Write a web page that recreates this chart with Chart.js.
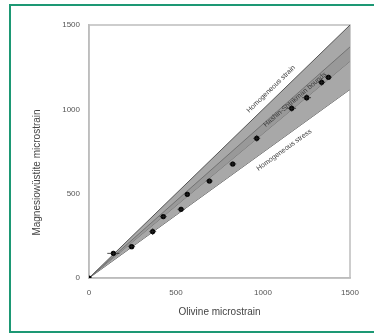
<!DOCTYPE html>
<html><head><meta charset="utf-8">
<script src="https://cdn.jsdelivr.net/npm/chart.js@4.4.0/dist/chart.umd.min.js"></script>
<style>
html,body{margin:0;padding:0;background:#fff;}
#wrap{position:absolute;left:0;top:0;width:374px;height:334px;}
#frame{position:absolute;left:9px;top:4px;width:368px;height:329px;border:2px solid #1d9874;box-sizing:border-box;pointer-events:none;}
canvas{position:absolute;left:0;top:0;}
</style></head>
<body>
<div id="wrap"><canvas id="c" width="374" height="334"></canvas><div id="frame"></div></div>
<script>
// Data
const olivine = [0,140,245,366,427,529,565,692,826,964,1165,1251,1337,1376];
const magnesiowustite = [0,146,186,275,364,407,496,575,676,828,1006,1069,1160,1190];
const olivineErr = [0,35,20,20,20,20,15,20,20,20,25,25,20,20];
const mgwErr = [0,15,15,20,15,15,15,15,15,20,20,20,20,15];
const axisTicks = [0,500,1000,1500];
const boundX = [0,1500];
const strainBound = [0,1500];      // homogeneous strain (y = x)
const stressBound = [0,1118];      // homogeneous stress
const hsUpper = [0,1370];          // Hashin-Shtrikman upper
const hsLower = [0,1285];          // Hashin-Shtrikman lower
const labelTexts = ['Homogeneous strain','Hashin-Shtrikman bounds','Homogeneous stress'];
const labelX = [1046,1184,1121];
const labelY = [1120,1058,759];
const labelSlope = [1.0,0.88,0.745];

const pts = (xs,ys)=>xs.map((x,i)=>({x:x,y:ys[i]}));

const frameAndLabels = {
  id:'extras',
  beforeDatasetsDraw(chart){
    const a = chart.chartArea, ctx = chart.ctx;
    ctx.save();
    ctx.strokeStyle = '#bdbdbd'; ctx.lineWidth = 1.5;
    ctx.strokeRect(a.left, a.top, a.right-a.left, a.bottom-a.top);
    ctx.restore();
  },
  afterDatasetsDraw(chart){
    const ctx = chart.ctx, xs = chart.scales.x, ys = chart.scales.y;
    ctx.save();
    // error bars
    ctx.strokeStyle = '#222'; ctx.lineWidth = 0.8;
    olivine.forEach((x,i)=>{
      const px = xs.getPixelForValue(x), py = ys.getPixelForValue(magnesiowustite[i]);
      if (olivineErr[i]) {
        const l = xs.getPixelForValue(x-olivineErr[i]), r = xs.getPixelForValue(x+olivineErr[i]);
        ctx.beginPath(); ctx.moveTo(l,py); ctx.lineTo(r,py); ctx.stroke();
      }
      if (mgwErr[i]) {
        const t = ys.getPixelForValue(magnesiowustite[i]+mgwErr[i]), b = ys.getPixelForValue(magnesiowustite[i]-mgwErr[i]);
        ctx.beginPath(); ctx.moveTo(px,t); ctx.lineTo(px,b); ctx.stroke();
      }
    });
    // rotated labels
    ctx.font = '7px "Liberation Sans", Arial, sans-serif';
    ctx.fillStyle = '#3a3a3a'; ctx.textAlign = 'center'; ctx.textBaseline = 'middle';
    labelTexts.forEach((t,i)=>{
      const px = xs.getPixelForValue(labelX[i]), py = ys.getPixelForValue(labelY[i]);
      const dx = xs.getPixelForValue(1000)-xs.getPixelForValue(0);
      const dy = ys.getPixelForValue(0)-ys.getPixelForValue(1000*labelSlope[i]);
      ctx.save(); ctx.translate(px,py); ctx.rotate(-Math.atan2(dy,dx));
      ctx.fillText(t,0,0); ctx.restore();
    });
    // y-axis title
    const a = chart.chartArea;
    ctx.font = '10px "Liberation Sans", Arial, sans-serif';
    ctx.fillStyle = '#444';
    ctx.save(); ctx.translate(37, (a.top+a.bottom)/2 + 21); ctx.rotate(-Math.PI/2);
    ctx.fillText('Magnesiowüstite microstrain',0,0); ctx.restore();
    ctx.restore();
  }
};

new Chart(document.getElementById('c'), {
  type:'scatter',
  data:{datasets:[
    {data:pts(boundX,strainBound), showLine:true, borderColor:'#555', borderWidth:1, pointRadius:0, fill:'+1', backgroundColor:'#a8a8a8', order:5},
    {data:pts(boundX,stressBound), showLine:true, borderColor:'#555', borderWidth:1, pointRadius:0, fill:false, order:5},
    {data:pts(boundX,hsUpper), showLine:true, borderColor:'#666', borderWidth:0.8, pointRadius:0, fill:'+1', backgroundColor:'#999999', order:4},
    {data:pts(boundX,hsLower), showLine:true, borderColor:'#666', borderWidth:0.8, pointRadius:0, fill:false, order:4},
    {data:pts(olivine,magnesiowustite), pointRadius:2.6, pointStyle:'circle', backgroundColor:'#000', borderColor:'#000', borderWidth:0, order:1}
  ]},
  options:{
    responsive:false, animation:false,
    layout:{padding:{top:25,right:24,left:0,bottom:0}},
    plugins:{legend:{display:false}, tooltip:{enabled:false}},
    scales:{
      x:{type:'linear', min:0, max:1500,
        afterBuildTicks(s){ s.ticks = axisTicks.map(v=>({value:v})); },
        afterFit(s){ s.height = 56; },
        grid:{display:false, drawTicks:true, tickLength:4, color:'#bdbdbd'},
        border:{color:'#bdbdbd', width:1.5},
        ticks:{font:{size:8, family:'"Liberation Sans", Arial'}, color:'#555', padding:6, maxRotation:0, callback:(v)=>String(v)},
        title:{display:true, text:'Olivine microstrain', font:{size:10, family:'"Liberation Sans", Arial'}, color:'#444', padding:{top:2,bottom:16}}
      },
      y:{type:'linear', min:0, max:1500,
        afterBuildTicks(s){ s.ticks = axisTicks.map(v=>({value:v})); },
        afterFit(s){ s.width = 89; },
        grid:{display:false, drawTicks:true, tickLength:4, color:'#bdbdbd'},
        border:{color:'#bdbdbd', width:1.5},
        ticks:{font:{size:8, family:'"Liberation Sans", Arial'}, color:'#555', padding:5, callback:(v)=>String(v)}
      }
    }
  },
  plugins:[frameAndLabels]
});
</script>
</body></html>
